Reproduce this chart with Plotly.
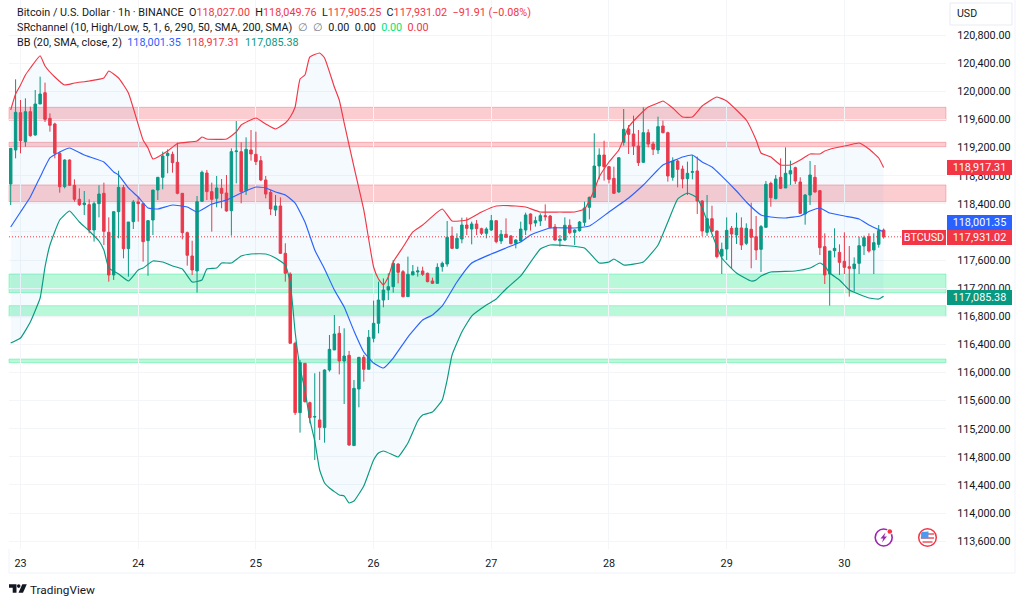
import plotly.graph_objects as go

# ---------- candle data (USD, hourly); index 0 = 22 Jul 22:00 ----------
direction = ("GGRGRGGRRR" "RGRRRGRGGR" "RGGRGGRRGG" "GGGRRRRRGG" "RRGRRGGRGR" "RRRRGRRRRG"
             "RRGRGGGRGR" "GGRGGGGGGR" "RGGGRRRGGG" "RGGRGRRGGR" "GRRGGGRGGR" "RRGGRGGGGG"
             "GRRRGGRRRG" "RRGRRGRRGG" "RRGRRGGRGR" "GRRGGRGRGG" "RRGGRRRGGR" "RRGGGRGGR")
body_high = [
119190,119703,119698,119712,119712,119821,119963,119982,119617,119537,
119119,119024,119024,118664,118465,118412,118389,118403,118540,118550,
117995,118289,118635,118631,118142,118427,118427,118403,118161,118597,
118778,119081,119119,119105,118991,118550,117990,117658,118431,118849,
118839,118574,118626,118621,118555,119143,119152,119143,119176,119167,
119105,119015,118740,118564,118370,118370,117696,117402,116416,116141,
116131,115571,115372,115325,116036,116330,116548,116558,116235,116245,
115775,116216,116216,116501,116700,117032,117174,117222,117554,117544,
117435,117397,117435,117445,117445,117412,117303,117497,117554,117924,
117943,117910,118099,118099,118114,118114,118047,118042,118161,118161,
117967,117967,117943,117886,118042,118242,118256,118161,118232,118232,
118227,118071,117895,118095,118095,118028,118142,118341,118493,118939,
119095,119095,118929,118763,119057,119461,119465,119394,119223,119413,
119413,119252,119499,119508,119413,119010,119010,118896,118835,118858,
118868,118441,118189,118189,118014,117753,118023,118052,118057,118057,
118052,118038,117933,118076,118678,118692,118754,118778,118835,118873,
118915,118711,118526,118811,118778,118588,117791,117729,117767,117710,
117582,117506,117544,117805,117919,117933,117848,118019,118027]
body_low = [
118683,119167,119299,119285,119370,119380,119821,119603,119518,119119,
118645,118645,118664,118465,118389,118389,118028,118028,118403,118009,
117388,117388,118289,117763,117763,118147,118403,117862,117877,118170,
118597,118778,119086,118986,118550,117990,117668,117459,117445,118436,
118574,118465,118479,118550,118299,118303,119143,118574,118588,119110,
119001,118740,118540,118327,118313,117696,117412,116416,115429,115429,
115586,115358,115367,115220,115216,116036,116321,116164,116164,114969,
114960,115766,116046,116046,116487,116700,117032,117174,117222,117426,
117080,117080,117388,117431,117397,117293,117269,117269,117506,117544,
117767,117767,117900,118052,118042,118047,117981,117981,118028,117862,
117872,117924,117834,117839,117872,118028,118114,118128,118156,118218,
118061,117886,117876,117886,117990,117995,118019,118137,118351,118493,
118939,118929,118749,118550,118569,119276,119389,119223,118986,118991,
119252,119176,119167,119413,118797,118778,118891,118754,118759,118849,
118441,118014,117995,118009,117649,117658,117758,117971,117957,117815,
117839,117924,117744,117753,118066,118488,118474,118621,118626,118825,
118725,118265,118256,118526,118569,117777,117388,117402,117734,117568,
117497,117483,117478,117554,117800,117729,117744,117824,117931]
wick_high = [
119190,120172,119878,119902,119783,120020,120210,120125,119688,119555,
119143,119034,119034,118749,118621,118583,118465,118431,118664,118702,
118208,118289,118872,118669,118142,118455,118503,118403,118170,118597,
118778,119143,119176,119143,119271,118550,118005,117876,118512,118873,
118882,118702,118797,118754,118811,119190,119579,119276,119347,119451,
119427,119081,118797,118597,118526,118493,117839,117426,116439,116178,
116131,115586,115989,116012,116046,116534,116819,116662,116629,116307,
115894,116216,116250,116605,117023,117293,117340,117412,117601,117554,
117459,117649,117530,117506,117506,117421,117350,117554,117578,118156,
118076,117981,118204,118208,118147,118170,118061,118066,118242,118161,
118028,118194,117957,117895,118147,118275,118265,118218,118265,118393,
118242,118114,117957,118208,118180,118038,118156,118431,118503,119404,
119190,119299,118939,118929,119057,119750,119522,119655,119451,119774,
119461,119285,119641,119584,119427,119062,119034,118944,119001,119095,
119072,118455,118526,118374,118019,117848,118208,118085,118275,118208,
118123,118417,118227,118099,118725,118716,118811,119048,119204,119015,
118929,118778,118540,119010,118953,118597,117981,117729,118052,117824,
117995,117800,117639,117933,117948,117981,117981,118099,118049]
wick_low = [
118384,119048,119119,119214,119356,119370,119821,119565,119427,119048,
118559,118621,118654,118431,118370,118242,117981,117862,118208,117815,
117293,117317,117910,117625,117364,118042,118147,117578,117378,117957,
118455,118607,118835,118844,118536,117895,117521,117388,117137,118431,
118455,118005,118351,118337,118289,117948,118692,118408,118526,119015,
118953,118725,118479,118242,118227,117687,117293,116416,115396,115145,
115571,115277,114756,115040,115002,116012,116321,115974,115552,114955,
114955,115505,115870,116046,116430,116558,116928,117032,117137,117269,
117070,117080,117388,117364,117374,117284,117260,117269,117435,117506,
117758,117758,117839,117957,117824,117957,117957,117910,118014,117839,
117829,117924,117824,117767,117862,117957,118019,118076,118085,118161,
118052,117876,117791,117876,117967,117815,118005,118085,118180,118493,
118749,118730,118692,118540,118559,119228,119110,119095,118939,118986,
119205,119095,119110,119404,118716,118730,118635,118621,118526,118749,
118256,117943,117943,117995,117625,117402,117601,117473,117829,117744,
117815,117483,117601,117431,118066,118360,118465,118612,118626,118669,
118683,118256,118104,118384,118559,117672,117260,116952,117639,117388,
117402,117080,117151,117402,117672,117706,117402,117777,117905]

# ---------- Bollinger bands, read at these candle indexes ----------
upper_i = [0,1,2,3,4,6,7,9,11,13,16,19,20,22,24,27,28,29,32,34,38,39,40,44,46,47,50,52,54,56,57,58,59,60,61,63,64,66,67,68,
           70,72,74,75,76,77,78,80,82,84,88,90,93,96,99,103,105,108,112,115,117,119,120,122,124,126,128,130,132,133,135,137,139,
           141,144,146,148,150,152,153,155,157,159,161,163,165,166,168,171,173,175,177,178]
upper_p = [119736,119963,120091,120234,120333,120508,120362,120205,120091,120120,120148,120191,120291,120191,119978,119309,119195,119039,119152,119259,
           119295,119351,119323,119323,119423,119522,119622,119537,119465,119551,119636,119778,120177,120234,120490,120547,120476,120063,119878,119551,
           118925,118313,117502,117331,117245,117359,117573,117786,118000,118099,118327,118156,118170,118284,118370,118370,118355,118284,118284,118284,
           118327,118597,118782,118996,119166,119494,119650,119778,119835,119864,119764,119636,119636,
           119793,119921,119864,119736,119593,119309,119124,119067,118953,118953,119024,119110,119110,119152,119195,119238,119266,119181,119053,118917.31]
middle_i = [0,2,4,6,8,10,12,15,19,21,22,24,26,28,30,33,36,38,41,44,47,50,52,54,56,58,60,62,64,66,68,70,72,74,76,78,81,84,86,88,91,94,98,101,104,106,
            110,115,118,122,126,129,133,135,137,139,141,143,145,148,150,153,155,158,161,163,165,167,170,173,175,178]
middle_p = [118071,118284,118498,118782,119053,119138,119195,119095,118996,118854,118811,118626,118498,118341,118327,118384,118355,118284,118398,118455,
            118554,118640,118626,118569,118526,118412,118142,117744,117473,117174,116932,116591,116292,116135,116064,116206,116505,116747,116819,116947,
            117288,117558,117686,117772,117857,117957,118057,118057,118085,118284,118483,118668,118953,119010,119067,119095,118996,118925,118796,118583,
            118427,118242,118213,118199,118227,118298,118341,118270,118227,118185,118099,118001.35]
lower_i = [0,2,4,6,7,8,10,12,14,16,18,19,20,22,24,26,27,29,31,33,35,37,39,40,42,43,45,47,49,52,54,56,57,58,59,60,61,62,63,64,65,67,68,69,70,72,74,75,76,78,79,
           81,83,84,86,88,89,90,92,94,97,99,101,104,108,110,117,120,122,123,125,129,132,134,136,138,140,141,143,145,148,151,152,153,155,160,163,165,166,167,169,171,175,177,178]
lower_p = [116420,116491,116719,117060,117502,117815,118170,118298,118142,118014,117872,117744,117487,117402,117302,117459,117487,117587,117573,117516,
           117473,117288,117317,117473,117487,117558,117558,117658,117687,117687,117630,117530,117288,116577,116064,115751,115325,115026,114613,114428,114357,
           114257,114243,114143,114172,114385,114755,114855,114883,114826,114798,
           114997,115310,115396,115438,115609,115894,116249,116577,116804,116961,117046,117189,117374,117758,117815,117772,117558,117573,117615,117530,117573,
           117815,118142,118469,118555,118483,118341,117971,117630,117416,117302,117317,117374,117430,117445,117487,117558,117516,117416,117317,117174,117060,117046,117085.38]

# ---------- support / resistance zones: (top, bottom) ----------
red_zones = [(119774, 119590), (119276, 119213), (118669, 118431)]
green_zones = [(117402, 117136), (116951, 116795), (116192, 116140)]

# ---------- axis labels ----------
day_index = [2, 26, 50, 74, 98, 122, 146, 170]
day_label = ["23", "24", "25", "26", "27", "28", "29", "30"]
price_grid = list(range(113600, 121200, 400))
covered_price = 118000  # its label sits fully behind the price tags in the reference
last_price = 117931.02

# ---------- layout constants ----------
W, H = 1024, 605
L, R, B = 9, 946, 549
FONT = "Roboto"
FS = 10.8
GREEN, RED, BLUE, TEAL = "#089981", "#F23645", "#2962FF", "#089981"
TEXT = "#131722"

def px(x): return (x - L) / (R - L)
def py(y): return 1 - y / B
def path(pts): return "M " + " L ".join(f"{px(a):.5f},{py(b):.5f}" for a, b in pts) + " Z"

n = len(direction)
hours = list(range(n))
opens = [l if d == "G" else h for d, h, l in zip(direction, body_high, body_low)]
closes = [h if d == "G" else l for d, h, l in zip(direction, body_high, body_low)]

fig = go.Figure()
band_x = upper_i + lower_i[::-1]
band_y = upper_p + lower_p[::-1]
fig.add_trace(go.Scatter(x=band_x, y=band_y, mode="lines", fill="toself",
                         fillcolor="rgba(33,150,243,0.05)", line=dict(width=0), hoverinfo="skip"))
fig.add_trace(go.Candlestick(x=hours, open=opens, high=wick_high, low=wick_low, close=closes,
                             whiskerwidth=0,
                             increasing=dict(line=dict(color=GREEN, width=1), fillcolor=GREEN),
                             decreasing=dict(line=dict(color=RED, width=1), fillcolor=RED)))
for xs, ys, c in [(upper_i, upper_p, RED), (middle_i, middle_p, BLUE), (lower_i, lower_p, TEAL)]:
    fig.add_trace(go.Scatter(x=xs, y=ys, mode="lines", line=dict(color=c, width=1.15, shape="spline", smoothing=0.4),
                             hoverinfo="skip"))

shapes = []
for top, bot in red_zones:
    shapes.append(dict(type="rect", xref="paper", yref="y", x0=0, x1=1, y0=bot, y1=top, layer="below",
                       fillcolor="rgba(242,54,69,0.25)", line=dict(color="rgba(242,54,69,0.3)", width=1)))
for top, bot in green_zones:
    shapes.append(dict(type="rect", xref="paper", yref="y", x0=0, x1=1, y0=bot, y1=top, layer="below",
                       fillcolor="rgba(0,230,118,0.27)", line=dict(color="rgba(0,230,118,0.32)", width=1)))
# dotted last-price line
shapes.append(dict(type="line", xref="paper", yref="y", x0=0, x1=px(902), y0=last_price, y1=last_price,
                   line=dict(color=RED, width=1, dash="1px,2px")))
# panel frame
frame = "#F0F3FA"
shapes += [
    dict(type="line", xref="paper", yref="paper", x0=px(9), x1=px(1015), y0=py(573), y1=py(573), line=dict(color=frame, width=1)),
    dict(type="line", xref="paper", yref="paper", x0=px(9), x1=px(9), y0=py(549), y1=py(573), line=dict(color=frame, width=1)),
    dict(type="line", xref="paper", yref="paper", x0=px(1015), x1=px(1015), y0=py(0), y1=py(573), line=dict(color=frame, width=1)),
    dict(type="rect", xref="paper", yref="paper", x0=px(950), x1=px(1012), y0=py(25), y1=py(3), line=dict(color="#E8EBF2", width=1), fillcolor="white"),
]
# lightning icon
def circle(cx, cy, r, **kw):
    return dict(type="circle", xref="paper", yref="paper", x0=px(cx - r), x1=px(cx + r), y0=py(cy + r), y1=py(cy - r), **kw)
shapes.append(circle(883.7, 537.5, 8.5, line=dict(color="#9C27B0", width=1.6), fillcolor="white"))
shapes.append(dict(type="path", xref="paper", yref="paper", fillcolor="#9C27B0", line=dict(width=0),
                   path=path([(885.5, 532.5), (880.5, 538.5), (883.3, 538.5), (882, 542.5), (887, 536.5), (884.2, 536.5)])))
shapes.append(circle(889.8, 531.5, 3.1, line=dict(width=0), fillcolor="white"))
shapes.append(circle(889.8, 531.5, 2.3, line=dict(width=0), fillcolor=RED))
# flag icon
shapes.append(circle(927.5, 537.5, 8.8, line=dict(color=RED, width=1.5), fillcolor="white"))
for yy in (534, 538, 542):
    hw = 6.6 if yy != 542 else 5
    shapes.append(dict(type="path", xref="paper", yref="paper", fillcolor="#F47C85", line=dict(width=0),
                       path=path([(927.5 - hw, yy - 1), (927.5 + hw, yy - 1), (927.5 + hw, yy + 1), (927.5 - hw, yy + 1)])))
shapes.append(dict(type="path", xref="paper", yref="paper", fillcolor="#4C9AF0", line=dict(width=0),
                   path=path([(921.5, 532), (928.5, 531.5), (928.5, 538.5), (920.8, 538.5)])))
# TradingView logo
logo = "#131722"
shapes.append(dict(type="path", xref="paper", yref="paper", fillcolor=logo, line=dict(width=0),
                   path=path([(9, 584.3), (16.5, 584.3), (16.5, 592.8), (12.7, 592.8), (12.7, 587.8), (9, 587.8)])))
shapes.append(circle(18.7, 586.1, 1.8, line=dict(width=0), fillcolor=logo))
shapes.append(dict(type="path", xref="paper", yref="paper", fillcolor=logo, line=dict(width=0),
                   path=path([(22.3, 584.3), (26.8, 584.3), (23, 592.8), (18.5, 592.8)])))

ann = []
def label(x, y, text, size=FS, color=TEXT, anchor="left", **kw):
    ann.append(dict(xref="paper", yref="paper", x=px(x), y=py(y), text=text, showarrow=False, xanchor=anchor, yanchor="middle",
                    font=dict(family=FONT, size=size, color=color), **kw))
def col(t, c): return f'<span style="color:{c}">{t}</span>'

label(14.5, 12.5, "Bitcoin / U.S. Dollar · 1h · BINANCE  O" + col("118,027.00", RED) + "  H" + col("118,049.76", RED)
      + "  L" + col("117,905.25", RED) + "  C" + col("117,931.02", RED) + "  " + col("−91.91 (−0.08%)", RED))
label(14.5, 28, "SRchannel (10, High/Low, 5, 1, 6, 290, 50, SMA, 200, SMA)  " + col("∅  ∅", "#787B86") + "  0.00  0.00  "
      + col("0.00", "#00E676") + "  " + col("0.00", RED))
label(14.5, 42.5, "BB (20, SMA, close, 2)  " + col("118,001.35", BLUE) + "  " + col("118,917.31", RED) + "  " + col("117,085.38", GREEN))
label(955, 14, "USD", size=10.6)
label(28, 589.5, "TradingView", size=11.8)

def tag(y_c, text, color, x0=947, x1=1012, h=14.6):
    ann.append(dict(xref="paper", yref="paper", x=px((x0 + x1) / 2), y=py(y_c), text=text, showarrow=False,
                    xanchor="center", yanchor="middle", width=x1 - x0 - 2, height=h - 2,
                    bgcolor=color, bordercolor=color, borderwidth=1, borderpad=0,
                    font=dict(family=FONT, size=FS, color="white")))
tag(167.5, "118,917.31", RED)
tag(222.8, "118,001.35", BLUE)
tag(237.6, "117,931.02", RED)
tag(297, "117,085.38", GREEN)
tag(237.6, "BTCUSD", RED, x0=902, x1=946)

fig.update_layout(
    width=W, height=H, margin=dict(l=L, r=W - R, t=0, b=H - B, pad=0),
    paper_bgcolor="white", plot_bgcolor="white", showlegend=False, shapes=shapes, annotations=ann,
    boxgap=0.28, hovermode=False,
    font=dict(family=FONT, size=FS, color=TEXT),
)
fig.update_xaxes(range=[(L - 10.7) / 4.904, (R - 10.7) / 4.904], tickmode="array", tickvals=day_index, ticktext=day_label,
                 showgrid=True, gridcolor="#F3F5F9", gridwidth=1, zeroline=False, showline=False, ticks="outside",
                 ticklen=4, tickcolor="white", rangeslider=dict(visible=False), tickfont=dict(size=FS, color=TEXT))
fig.update_yaxes(side="right", range=[121301 - 14.23 * B, 121301], tickmode="array", tickvals=price_grid,
                 ticktext=["" if p == covered_price else f"{p:,.2f}" for p in price_grid], showgrid=True, gridcolor="#F3F5F9", gridwidth=1,
                 zeroline=False, showline=False, ticks="outside", ticklen=8, tickcolor="white", tickfont=dict(size=FS, color=TEXT))

fig.write_html("out.html", include_plotlyjs=True, config=dict(displayModeBar=False),
               post_script="document.body.style.margin='0';document.body.style.overflow='hidden';")
